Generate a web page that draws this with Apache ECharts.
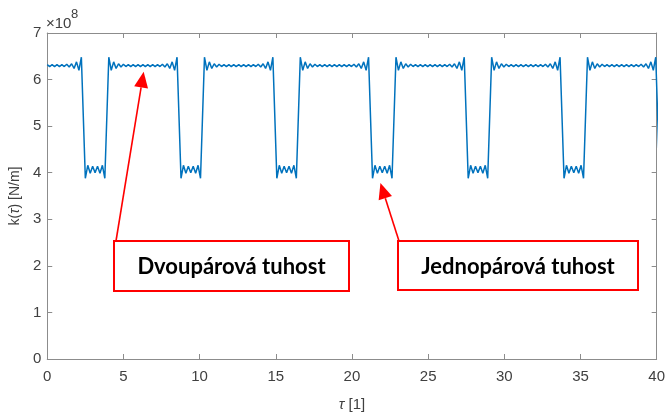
<!DOCTYPE html>
<html>
<head>
<meta charset="utf-8">
<script src="https://cdn.jsdelivr.net/npm/echarts@6/dist/echarts.min.js"></script>
<style>
  html, body { margin: 0; padding: 0; background: #ffffff; }
  #chart { width: 668px; height: 417px; }
</style>
</head>
<body>
<div id="chart"></div>
<script>
// Mesh stiffness k(tau) of a gear pair, in units of 1e8 N/m, over tau = 0..40.
// One row per mesh period (double-pair contact, single-pair dip, double-pair contact).
const tau = [
  0.00, 0.16, 0.32, 0.48, 0.64, 0.80, 0.96, 1.12, 1.28, 1.44, 1.60, 1.76, 1.92, 2.08, 2.24, 2.50, 2.66, 2.82, 2.98, 3.14, 3.30, 3.46, 3.62, 3.78, 4.04, 4.20, 4.36, 4.52, 4.68, 4.84, 5.00, 5.16, 5.32, 5.48, 5.64, 5.80, 5.96, 6.12,
  6.28, 6.44, 6.60, 6.76, 6.92, 7.08, 7.24, 7.40, 7.56, 7.72, 7.88, 8.04, 8.20, 8.36, 8.52, 8.78, 8.94, 9.10, 9.26, 9.42, 9.58, 9.74, 9.90, 10.06, 10.32, 10.48, 10.64, 10.80, 10.96, 11.12, 11.28, 11.44, 11.60, 11.76, 11.92, 12.08, 12.24, 12.40,
  12.57, 12.73, 12.89, 13.05, 13.21, 13.37, 13.53, 13.69, 13.85, 14.01, 14.17, 14.33, 14.49, 14.65, 14.81, 15.07, 15.23, 15.39, 15.55, 15.71, 15.87, 16.03, 16.19, 16.35, 16.61, 16.77, 16.93, 17.09, 17.25, 17.41, 17.57, 17.73, 17.89, 18.05, 18.21, 18.37, 18.53, 18.69,
  18.85, 19.01, 19.17, 19.33, 19.49, 19.65, 19.81, 19.97, 20.13, 20.29, 20.45, 20.61, 20.77, 20.93, 21.09, 21.35, 21.51, 21.67, 21.83, 21.99, 22.15, 22.31, 22.47, 22.63, 22.89, 23.05, 23.21, 23.37, 23.53, 23.69, 23.85, 24.01, 24.17, 24.33, 24.49, 24.65, 24.81, 24.97,
  25.13, 25.29, 25.45, 25.61, 25.77, 25.93, 26.09, 26.25, 26.41, 26.57, 26.73, 26.89, 27.05, 27.21, 27.37, 27.63, 27.79, 27.95, 28.11, 28.27, 28.43, 28.59, 28.75, 28.91, 29.17, 29.33, 29.49, 29.65, 29.81, 29.97, 30.13, 30.29, 30.45, 30.61, 30.77, 30.93, 31.09, 31.25,
  31.42, 31.58, 31.74, 31.90, 32.06, 32.22, 32.38, 32.54, 32.70, 32.86, 33.02, 33.18, 33.34, 33.50, 33.66, 33.92, 34.08, 34.24, 34.40, 34.56, 34.72, 34.88, 35.04, 35.20, 35.46, 35.62, 35.78, 35.94, 36.10, 36.26, 36.42, 36.58, 36.74, 36.90, 37.06, 37.22, 37.38, 37.54,
  37.70, 37.86, 38.02, 38.18, 38.34, 38.50, 38.66, 38.82, 38.98, 39.14, 39.30, 39.46, 39.62, 39.78, 39.94, 40.20
];
const stiffness = [
  6.32, 6.28, 6.32, 6.28, 6.32, 6.28, 6.32, 6.28, 6.33, 6.27, 6.34, 6.24, 6.38, 6.20, 6.48, 3.88, 4.16, 3.99, 4.14, 4.00, 4.14, 3.99, 4.16, 3.88, 6.48, 6.20, 6.38, 6.24, 6.34, 6.27, 6.33, 6.28, 6.32, 6.28, 6.32, 6.28, 6.32, 6.28,
  6.32, 6.28, 6.32, 6.28, 6.32, 6.28, 6.32, 6.28, 6.33, 6.27, 6.34, 6.24, 6.38, 6.20, 6.48, 3.88, 4.16, 3.99, 4.14, 4.00, 4.14, 3.99, 4.16, 3.88, 6.48, 6.20, 6.38, 6.24, 6.34, 6.27, 6.33, 6.28, 6.32, 6.28, 6.32, 6.28, 6.32, 6.28,
  6.32, 6.28, 6.32, 6.28, 6.32, 6.28, 6.32, 6.28, 6.33, 6.27, 6.34, 6.24, 6.38, 6.20, 6.48, 3.88, 4.16, 3.99, 4.14, 4.00, 4.14, 3.99, 4.16, 3.88, 6.48, 6.20, 6.38, 6.24, 6.34, 6.27, 6.33, 6.28, 6.32, 6.28, 6.32, 6.28, 6.32, 6.28,
  6.32, 6.28, 6.32, 6.28, 6.32, 6.28, 6.32, 6.28, 6.33, 6.27, 6.34, 6.24, 6.38, 6.20, 6.48, 3.88, 4.16, 3.99, 4.14, 4.00, 4.14, 3.99, 4.16, 3.88, 6.48, 6.20, 6.38, 6.24, 6.34, 6.27, 6.33, 6.28, 6.32, 6.28, 6.32, 6.28, 6.32, 6.28,
  6.32, 6.28, 6.32, 6.28, 6.32, 6.28, 6.32, 6.28, 6.33, 6.27, 6.34, 6.24, 6.38, 6.20, 6.48, 3.88, 4.16, 3.99, 4.14, 4.00, 4.14, 3.99, 4.16, 3.88, 6.48, 6.20, 6.38, 6.24, 6.34, 6.27, 6.33, 6.28, 6.32, 6.28, 6.32, 6.28, 6.32, 6.28,
  6.32, 6.28, 6.32, 6.28, 6.32, 6.28, 6.32, 6.28, 6.33, 6.27, 6.34, 6.24, 6.38, 6.20, 6.48, 3.88, 4.16, 3.99, 4.14, 4.00, 4.14, 3.99, 4.16, 3.88, 6.48, 6.20, 6.38, 6.24, 6.34, 6.27, 6.33, 6.28, 6.32, 6.28, 6.32, 6.28, 6.32, 6.28,
  6.32, 6.28, 6.32, 6.28, 6.32, 6.28, 6.32, 6.28, 6.33, 6.27, 6.34, 6.24, 6.38, 6.20, 6.48, 3.88
];

// Callout texts and the (tau, k) point each arrow points at
const calloutTexts = ['Dvoupárová tuhost', 'Jednopárová tuhost'];
const calloutTargets = [[6.33, 6.17], [21.87, 3.78]];

const AXIS_COLOR = '#8c8c8c';
const LABEL_COLOR = '#404040';
const LINE_COLOR = '#0072BD';
const RED = '#ff0000';
const FONT = '"Liberation Sans", Arial, sans-serif';

const chart = echarts.init(document.getElementById('chart'), null, { renderer: 'canvas' });

const axisCommon = {
  type: 'value',
  axisLine: { show: true, onZero: false, lineStyle: { color: AXIS_COLOR, width: 1 } },
  axisTick: { show: true, inside: true, length: 5, lineStyle: { color: AXIS_COLOR } },
  splitLine: { show: false }
};

chart.setOption({
  animation: false,
  backgroundColor: '#ffffff',
  grid: { left: 46, right: 8, top: 33, bottom: 54, containLabel: false },
  xAxis: [
    Object.assign({}, axisCommon, {
      min: 0, max: 40, interval: 5, position: 'bottom',
      axisLabel: { margin: 10, fontSize: 15, color: LABEL_COLOR, fontFamily: FONT },
      name: '{i|τ}{n| [1]}', nameLocation: 'middle', nameGap: 38,
      nameTextStyle: {
        rich: {
          i: { fontSize: 15, fontStyle: 'italic', color: LABEL_COLOR, fontFamily: FONT },
          n: { fontSize: 15, color: LABEL_COLOR, fontFamily: FONT }
        }
      }
    }),
    Object.assign({}, axisCommon, {
      min: 0, max: 40, interval: 5, position: 'top',
      axisLabel: { show: false }
    })
  ],
  yAxis: [
    Object.assign({}, axisCommon, {
      min: 0, max: 7, interval: 1, position: 'left',
      axisLabel: { margin: 6, fontSize: 15, color: LABEL_COLOR, fontFamily: FONT },
      name: '{n|k(}{i|τ}{n|) [N/m]}', nameLocation: 'middle', nameGap: 21,
      nameTextStyle: {
        rich: {
          i: { fontSize: 14, fontStyle: 'italic', color: LABEL_COLOR, fontFamily: FONT },
          n: { fontSize: 14, color: LABEL_COLOR, fontFamily: FONT }
        }
      }
    }),
    Object.assign({}, axisCommon, {
      min: 0, max: 7, interval: 1, position: 'right',
      axisLabel: { show: false }
    })
  ],
  series: [{
    type: 'line',
    xAxisIndex: 0,
    yAxisIndex: 0,
    data: tau.map((t, i) => [t, stiffness[i]]),
    showSymbol: false,
    clip: true,
    lineStyle: { color: LINE_COLOR, width: 1.5 }
  }]
});

// Arrow from a tail point to a tip point: shaft plus filled triangular head
function arrow(tail, tip, headLen, headHalf) {
  const dx = tip[0] - tail[0], dy = tip[1] - tail[1];
  const L = Math.hypot(dx, dy);
  const ux = dx / L, uy = dy / L;
  const bx = tip[0] - ux * headLen, by = tip[1] - uy * headLen;
  const px = -uy * headHalf, py = ux * headHalf;
  return [
    { type: 'line', z: 100, shape: { x1: tail[0], y1: tail[1], x2: bx, y2: by },
      style: { stroke: RED, lineWidth: 1.6 } },
    { type: 'polygon', z: 100, shape: { points: [[tip[0], tip[1]], [bx + px, by + py], [bx - px, by - py]] },
      style: { fill: RED } }
  ];
}

const boxes = [
  { x: 114, y: 241, w: 235, h: 50, tail: [116, 241] },
  { x: 398, y: 241, w: 240, h: 49, tail: [399, 241] }
];

const graphics = [];
boxes.forEach((b, i) => {
  const tip = chart.convertToPixel({ gridIndex: 0 }, calloutTargets[i]);
  graphics.push(...arrow(b.tail, tip, 16, 7));
  graphics.push({
    type: 'rect', z: 101,
    shape: { x: b.x, y: b.y, width: b.w, height: b.h },
    style: { fill: '#ffffff', stroke: RED, lineWidth: 2 }
  });
  graphics.push({
    type: 'text', z: 102,
    x: b.x + b.w / 2, y: b.y + b.h / 2 + 1,
    style: {
      text: calloutTexts[i], fill: '#000000',
      font: 'bold 22px Lato, "Open Sans", sans-serif',
      textAlign: 'center', textVerticalAlign: 'middle'
    }
  });
});

// Exponent of the y axis scale
graphics.push({
  type: 'text', x: 46, y: 16,
  style: { text: '×10', fill: LABEL_COLOR, font: '15px ' + FONT, textVerticalAlign: 'top' }
});
graphics.push({
  type: 'text', x: 71, y: 8,
  style: { text: '8', fill: LABEL_COLOR, font: '13px ' + FONT, textVerticalAlign: 'top' }
});

chart.setOption({ graphic: graphics });
</script>
</body>
</html>
